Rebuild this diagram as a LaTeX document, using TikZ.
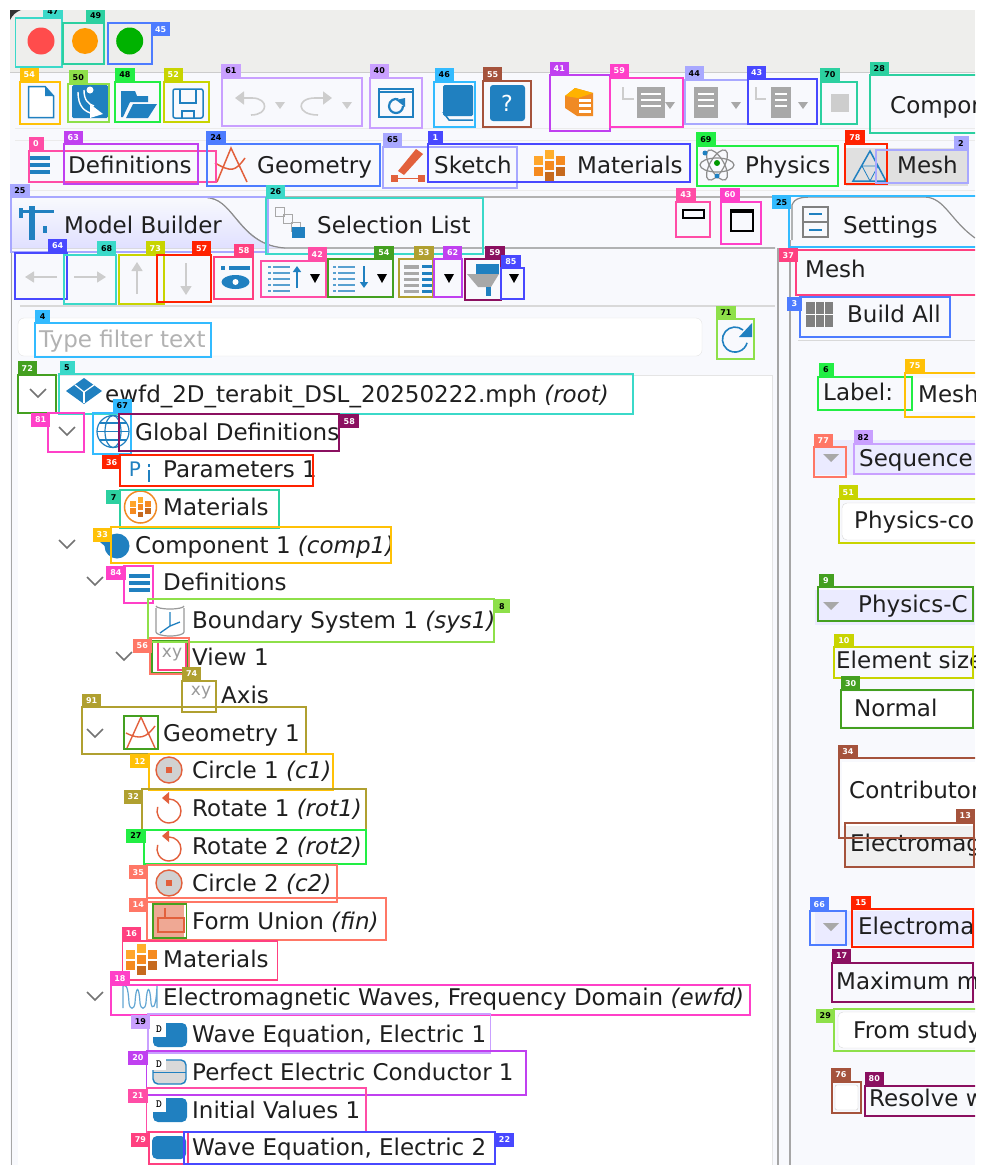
\documentclass[tikz,border=0pt]{standalone}
\usepackage{fontspec}
\setmainfont{DejaVu Sans}
\usetikzlibrary{arrows.meta,shapes.geometric}
\definecolor{markteal}{HTML}{3BD9C9}
\definecolor{markmint}{HTML}{2CD0A0}
\definecolor{markblue}{HTML}{4D7CFF}
\definecolor{markamber}{HTML}{FFC107}
\definecolor{marklime}{HTML}{8EE04A}
\definecolor{markgreen}{HTML}{22EE44}
\definecolor{markyellow}{HTML}{C8D400}
\definecolor{marklilac}{HTML}{C9A0FF}
\definecolor{marksky}{HTML}{33BBFF}
\definecolor{markbrown}{HTML}{A5533C}
\definecolor{markviolet}{HTML}{C040F0}
\definecolor{markfuchsia}{HTML}{FF40C8}
\definecolor{markperi}{HTML}{A8A8FF}
\definecolor{markindigo}{HTML}{4848FF}
\definecolor{markrose}{HTML}{FF4DA6}
\definecolor{markred}{HTML}{FF2200}
\definecolor{markmoss}{HTML}{44A020}
\definecolor{markolive}{HTML}{B0A030}
\definecolor{markplum}{HTML}{8B1060}
\definecolor{markcoral}{HTML}{FF7766}
\definecolor{markpink}{HTML}{FF4080}
\definecolor{panelbg}{HTML}{F8F9FD}
\definecolor{titlegray}{HTML}{EEEEEC}
\definecolor{uiblue}{HTML}{2080C0}
\definecolor{uired}{HTML}{E2603C}
\definecolor{uigray}{HTML}{A8A8A8}
\definecolor{uilight}{HTML}{CDCDCD}
\definecolor{uiorange}{HTML}{F08A24}
\tikzset{
    uitext/.style={anchor=base west,inner sep=0pt,text=black!88,font=\fontsize{23}{23}\selectfont},
    markline/.style={draw=#1,line width=1.8pt},
    marktag/.style={anchor=north west,fill=#1,inner sep=0pt,minimum height=14pt,font=\bfseries\fontsize{8}{8}\selectfont},
    chevron/.style={draw=black!55,line width=1.6pt},
    grayarrow/.style={draw=uilight,line width=1.6pt,-{Triangle[width=11pt,length=9pt]}},
    pics/matgrid/.style={code={
        \foreach \dx/\dy/\tint in {0/-11/FFAE2B,-11/-5/FFA62B,11/-5/F58A1F,0/0/F58A1F,-11/6.5/F58A1F,11/6.5/C66A1E,0/11.5/C66A1E}
        {
            \definecolor{gridtint}{HTML}{\tint}
            \fill[gridtint] (\dx-4.5,\dy-4.5) rectangle (\dx+4.5,\dy+4.5);
        }
    }},
    pics/targeticon/.style={code={
        \fill[black!18] (0,0) circle (13);
        \draw[uired,line width=1.4pt] (0,0) circle (13);
        \fill[uired] (-3,-3) rectangle (3,3);
    }},
    pics/turnicon/.style={code={
        \draw[uired,line width=1.4pt] (0,-12) arc[start angle=270,end angle=560,radius=12];
        \fill[uired] (-7,-13) -- (0,-19) -- (0,-7) -- cycle;
    }},
    pics/domainicon/.style={code={
        \fill[uiblue,rounded corners=5pt] (-17,-12) rectangle (17,12);
        \fill[white] (-18,-13) rectangle (-4,2);
        \node[inner sep=0pt,font=\ttfamily\bfseries\fontsize{11}{11}\selectfont] (dmark) at (-11,-6) {D};
    }},
    pics/xyicon/.style={code={
        \node[inner sep=0pt,text=black!40,font=\fontsize{17}{17}\selectfont] (xymark) at (0,0) {xy};
    }}
}

\begin{document}
\begin{tikzpicture}[x=1pt,y=-1pt,>=Latex]
    \useasboundingbox (0,0) rectangle (984,1175);
    \fill[white] (0,0) rectangle (984,1175);
    \begin{scope}
    \clip (10,10) rectangle (975,1165);
    % window and panels
    \fill[panelbg] (10,10) rectangle (975,1165);
    \fill[titlegray] (10,10) rectangle (975,72);
    \draw[black!20,line width=1.5pt] (10,72.5)--(975,72.5);
    \draw[black!8] (15,128)--(975,128);
    \draw[black!8] (15,140)--(975,140);
    \draw[black!8] (15,190)--(975,190);
    \fill[black!80] (10,10) -- (21,10) to[bend right=20] (10,20) -- cycle;
    \fill[white] (18,375) rectangle (772,1165);
    \draw[black!10] (18,375)--(772,375)--(772,1165);
    \draw[black!35,line width=1.5pt] (11.5,240)--(11.5,1165);
    \draw[black!35,line width=1.5pt] (778,248)--(778,1165);
    \draw[black!35,line width=1.5pt] (790,240)--(790,1165);
    \draw[black!15,line width=1.2pt] (20,306)--(775,306);
    \draw[black!15,line width=1.2pt] (798,340.5)--(975,340.5);

    % traffic lights
    \fill[red!70!white] (41,41) circle (13.5);
    \fill[orange!80!yellow] (85,41) circle (13);
    \fill[green!70!black] (129.7,41) circle (13.5);

    % main toolbar
    \draw[uiblue,fill=white,line width=1.5pt] (28.5,86.5)--(45,86.5)--(53.5,96)--(53.5,117.5)--(28.5,117.5)--cycle;
    \fill[uiblue] (45,86.5)--(45,96)--(53.5,96)--cycle;
    \fill[uiblue,rounded corners=1.5pt] (72,85) rectangle (108,118);
    \draw[white,line width=1.4pt] (78,92) .. controls (78,106) and (84,112) .. (94,114);
    \draw[white,line width=1.4pt] (84,90) .. controls (84,100) and (88,104) .. (94,106);
    \fill[white] (90,90) circle (3.5);
    \fill[white] (90,104)--(103,114)--(90,118)--cycle;
    \fill[uiblue] (121,91)--(135,91)--(137,96)--(148,96)--(148,102)--(130,102)--(123,117)--(121,117)--cycle;
    \fill[uiblue] (133,104)--(157,104)--(148,118)--(126,118)--cycle;
    \draw[uiblue,line width=1.5pt,rounded corners=2pt] (173,89) rectangle (203,118);
    \draw[uiblue,line width=1.5pt] (180,89)--(180,103)--(196,103)--(196,89);
    \draw[uiblue,line width=1.5pt] (182,118)--(182,111)--(194,111)--(194,118);
    \draw[uilight,line width=1.6pt,-{Triangle[width=13pt,length=9pt]}] (251,115) .. controls (269,115) and (269,98) .. (252,98) -- (235,98);
    \fill[uilight] (275,102)--(285,102)--(280,109)--cycle;
    \draw[uilight,line width=1.6pt,-{Triangle[width=13pt,length=9pt]}] (318,115) .. controls (296,115) and (296,98) .. (315,98) -- (332,98);
    \fill[uilight] (342,102)--(352,102)--(347,109)--cycle;
    \draw[uiblue,line width=1.5pt] (379,89) rectangle (413,117);
    \draw[uiblue,line width=2.5pt] (379,92)--(413,92);
    \draw[uiblue,line width=2.2pt] (403,106) arc[start angle=0,end angle=290,radius=7];
    \fill[uiblue] (405,98)--(405,107)--(396,100)--cycle;
    \fill[uiblue,rounded corners=1.5pt] (443,85) rectangle (473,116);
    \draw[uiblue,line width=1.5pt] (443,112)--(449,120)--(473,120);
    \fill[uiblue,rounded corners=3pt] (490,85) rectangle (525,121);
    \node[inner sep=0pt,text=white,font=\fontsize{22}{22}\selectfont] (helpmark) at (507,103) {?};
    \fill[uiorange] (565,96)--(575,88)--(593,93)--(593,116)--(577,116)--(565,108)--cycle;
    \fill[orange!60!yellow] (565,96)--(575,88)--(593,93)--(578,98)--cycle;
    \fill[white] (579,99) rectangle (591,102);
    \fill[white] (579,104) rectangle (591,107);
    \fill[white] (579,110) rectangle (591,113);
    \foreach \xa/\xb in {637/665,694/718,771/791}
    {
        \fill[uigray] (\xa,87) rectangle (\xb,118);
        \foreach \yy in {93,99,105}
        {
            \fill[white] (\xa+4,\yy) rectangle (\xb-4,\yy+1.5);
        }
    }
    \draw[uilight,line width=1.5pt] (623,87)--(623,99)--(634,99);
    \draw[uilight,line width=1.5pt] (756,87)--(756,99)--(766,99);
    \foreach \xx in {670,736,803}
    {
        \fill[uigray] (\xx-5,102)--(\xx+5,102)--(\xx,109)--cycle;
    }
    \fill[uilight] (831,94) rectangle (849,112);
    \node[uitext] (compon) at (890,113) {Compon};

    % ribbon tabs
    \fill[black!12] (846,148) rectangle (968,186);
    \foreach \yy in {156,163,170}
    {
        \fill[uiblue] (30,\yy) rectangle (50,\yy+3.5);
    }
    \node[uitext] (ribdef) at (68,173.5) {Definitions};
    \draw[uired,line width=1.5pt] (217,182)--(231,148)--(247,182);
    \draw[uired,line width=1.5pt] (215,163) .. controls (231,172) and (235,172) .. (245,158);
    \node[uitext] (ribgeom) at (257,173.5) {Geometry};
    \fill[uired] (398,171)--(416,149)--(423,154)--(404,175)--cycle;
    \fill[uired] (391,175) rectangle (398,182);
    \fill[uired] (418,175) rectangle (425,182);
    \draw[uired,line width=1.2pt] (398,178.5)--(418,178.5);
    \node[uitext] (ribsketch) at (434,173.5) {Sketch};
    \pic at (549,165) {matgrid};
    \node[uitext] (ribmat) at (577,173.5) {Materials};
    \foreach \ang in {0,60,120}
    {
        \draw[black!45,line width=1.2pt,rotate around={\ang:(717,165)}] (717,165) ellipse (17 and 7);
    }
    \fill[green!60!black] (717,163) circle (3);
    \fill[uiblue] (705,153) circle (2.5);
    \fill[uiblue] (717,176) circle (2.5);
    \node[uitext] (ribphys) at (745,173.5) {Physics};
    \draw[uiblue,line width=1.5pt] (870,151)--(886,181)--(853,181)--cycle;
    \draw[uiblue,line width=0.8pt] (862,166)--(878,166)--(870,181)--cycle;
    \node[uitext] (ribmesh) at (897,173.5) {Mesh};

    % model builder tabs
    \fill[top color=panelbg,bottom color=blue!12!white] (12,198)--(205,198) .. controls (235,198) and (240,245) .. (285,248)--(12,248)--cycle;
    \draw[black!45,line width=1.2pt] (210,198) .. controls (235,202) and (240,245) .. (285,248)--(775,248);
    \draw[black!30,line width=1.2pt] (12,197)--(775,197);
    \draw[black!45,line width=1.2pt] (483,200) -- (483,240);
    \fill[uiblue] (29,206) rectangle (35,240);
    \fill[uiblue] (19,210) rectangle (54,213);
    \fill[uiblue] (19,208) rectangle (23,218);
    \fill[uiblue] (43,226) rectangle (47,233);
    \node[uitext] (modeltab) at (64,233.5) {Model Builder};
    \foreach \xx/\yy in {280/212,288/219,296/227}
    {
        \draw[uigray,line width=1pt] (\xx-5,\yy-5) rectangle (\xx+4,\yy+4);
    }
    \fill[uiblue] (292,227) rectangle (305,238);
    \node[uitext] (selecttab) at (317,233.5) {Selection List};
    \draw[black,line width=1.5pt] (683,210) rectangle (704,218);
    \draw[black,line width=1.5pt] (731,210) rectangle (753,231);
    \draw[black,line width=2.5pt] (731,212)--(753,212);

    % model builder toolbar
    \draw[grayarrow] (57,277)--(25,277);
    \draw[grayarrow] (74,277)--(106,277);
    \draw[grayarrow] (137,294)--(137,262);
    \draw[grayarrow] (186,263)--(186,295);
    \fill[uiblue] (221,266) rectangle (225,270);
    \fill[uiblue] (229,266) rectangle (250,270);
    \fill[uiblue] (235.5,282) ellipse (14 and 7);
    \fill[white] (235.5,282) circle (3);
    \foreach \xa/\xb/\ya/\yb in {269/290/266/292,334/355/266/292}
    {
        \foreach \yy in {266,272,278,284,290}
        {
            \fill[uiblue!75] (\xa+4,\yy) rectangle (\xb,\yy+2);
            \fill[uiblue!75] (\xa-1,\yy) rectangle (\xa+2,\yy+2);
        }
    }
    \draw[uiblue,line width=1.6pt,-{Triangle[width=8pt,length=6pt]}] (297,288)--(297,266);
    \draw[uiblue,line width=1.6pt,-{Triangle[width=8pt,length=6pt]}] (364,266)--(364,288);
    \fill[uigray] (404,265) rectangle (419,269);
    \fill[uigray] (404,272) rectangle (419,275);
    \fill[uigray] (404,278) rectangle (419,281);
    \fill[uigray] (404,284) rectangle (419,287);
    \fill[uigray] (404,290) rectangle (419,293);
    \foreach \yy in {265,272,278,284,290}
    {
        \fill[uiblue] (422,\yy) rectangle (432,\yy+3);
    }
    \foreach \xx in {315,382,449,514}
    {
        \fill[black] (\xx-5,274)--(\xx+5,274)--(\xx,283)--cycle;
    }
    \fill[uiblue] (476,264) rectangle (499,274);
    \fill[uigray] (467,274)--(499,274)--(491,287)--(478,287)--cycle;
    \fill[uiblue] (486,287) rectangle (491,296);

    % filter field
    \draw[black!10,fill=white,rounded corners=6pt] (18,318) rectangle (702,356);
    \node[uitext,text=black!30] (filtertext) at (39,347) {Type filter text};
    \draw[uiblue,line width=1.6pt] (743,330) arc[start angle=-50,end angle=-345,radius=12.5];
    \fill[uiblue] (752,323)--(752,337)--(739,337)--cycle;

    % model tree
    \foreach \xx/\yy in {38/393,67/431,67/544,95/581,124/656,95/733,95/996}
    {
        \draw[chevron] (\xx-8,\yy-4)--(\xx,\yy+4)--(\xx+8,\yy-4);
    }
    \fill[uiblue] (66,391)--(84,378)--(102,391)--(84,404)--cycle;
    \draw[white,line width=1.2pt] (75,385)--(84,392)--(94,385);
    \draw[white,line width=1.2pt] (84,392)--(84,403);
    \node[uitext] (rootlabel) at (105,402) {ewfd\_2D\_terabit\_DSL\_20250222.mph \textit{(root)}};
    \draw[uiblue,line width=1.2pt] (113,431.5) circle (16);
    \draw[uiblue,line width=1.2pt] (113,431.5) ellipse (8 and 16);
    \draw[uiblue,line width=1.2pt] (97,431.5)--(129,431.5);
    \draw[uiblue,line width=1.2pt] (99,423)--(127,423);
    \draw[uiblue,line width=1.2pt] (99,440)--(127,440);
    \node[uitext] (globaldefs) at (135,440) {Global Definitions};
    \node[inner sep=0pt,text=uiblue,font=\fontsize{20}{20}\selectfont] (pmark) at (135,469) {P};
    \fill[uiblue] (148,470) rectangle (150,482);
    \fill[uiblue] (148,464) rectangle (150,467);
    \node[uitext] (paramlabel) at (163,477) {Parameters 1};
    \draw[uiorange,line width=1.5pt] (140.5,507) circle (16);
    \pic[scale=0.65] at (140.5,507) {matgrid};
    \node[uitext] (globalmat) at (163,515) {Materials};
    \fill[uiblue] (117,546) circle (12.5);
    \fill[uiblue] (100,542)--(112,542)--(112,552)--cycle;
    \node[uitext] (complabel) at (135,553) {Component 1 \textit{(comp1)}};
    \foreach \yy in {574,581,588}
    {
        \fill[uiblue] (129,\yy) rectangle (150,\yy+4);
    }
    \node[uitext] (deflabel) at (163,590) {Definitions};
    \draw[black!40,line width=1.2pt] (156,608)--(156,632) arc[start angle=180,end angle=0,x radius=14,y radius=4]--(184,608);
    \draw[black!40,line width=1.2pt] (156,606) arc[start angle=180,end angle=0,x radius=14,y radius=3];
    \draw[uiblue,line width=1.3pt] (170,612)--(170,626)--(180,622);
    \draw[uiblue,line width=1.3pt] (170,626)--(160,633);
    \node[uitext] (boundlabel) at (192,628) {Boundary System 1 \textit{(sys1)}};
    \pic at (172,655) {xyicon};
    \node[uitext] (viewlabel) at (192,665) {View 1};
    \pic at (201,693) {xyicon};
    \node[uitext] (axislabel) at (221,703) {Axis};
    \draw[uired,line width=1.4pt] (127,748)--(141,717)--(155,748);
    \draw[uired,line width=1.4pt] (126,733) .. controls (140,740) and (146,738) .. (155,726);
    \node[uitext] (geomlabel) at (163,741) {Geometry 1};
    \pic at (169,770) {targeticon};
    \node[uitext] (circleone) at (192,778.5) {Circle 1 \textit{(c1)}};
    \pic at (169,811) {turnicon};
    \node[uitext] (rotateone) at (192,816) {Rotate 1 \textit{(rot1)}};
    \pic at (169,849) {turnicon};
    \node[uitext] (rotatetwo) at (192,854) {Rotate 2 \textit{(rot2)}};
    \pic at (169,883) {targeticon};
    \node[uitext] (circletwo) at (192,891.5) {Circle 2 \textit{(c2)}};
    \fill[uired!55] (154,905) rectangle (184,938);
    \draw[uired,line width=1.2pt] (158,918) rectangle (184,932);
    \draw[uired,line width=1.2pt] (165,908)--(165,918);
    \node[uitext] (unionlabel) at (192,929) {Form Union \textit{(fin)}};
    \pic at (141,959) {matgrid};
    \node[uitext] (materials) at (163,967) {Materials};
    \draw[uiblue!70,line width=1.2pt] (123,1008)--(123,986) .. controls (126,984) and (128,986) .. (129,1003) .. controls (130,1010) and (134,1010) .. (135,1003) .. controls (136,985) and (139,985) .. (140,1003) .. controls (141,1010) and (145,1010) .. (146,1003) .. controls (147,985) and (150,985) .. (151,1003) .. controls (152,1010) and (156,1010) .. (157,986)--(157,1008);
    \node[uitext] (ewfdlabel) at (163,1005) {Electromagnetic Waves, Frequency Domain \textit{(ewfd)}};
    \pic at (170,1035) {domainicon};
    \node[uitext] (waveone) at (192,1042) {Wave Equation, Electric 1};
    \draw[uiblue,line width=1.4pt,fill=black!15,rounded corners=5pt] (153,1060) rectangle (186,1084);
    \draw[uiblue,line width=1.4pt] (153,1072.5)--(186,1072.5);
    \fill[white] (152,1059) rectangle (166,1070);
    \node[inner sep=0pt,font=\ttfamily\bfseries\fontsize{11}{11}\selectfont] (pecmark) at (159,1064) {D};
    \node[uitext] (peclabel) at (192,1080) {Perfect Electric Conductor 1};
    \pic at (170,1110) {domainicon};
    \node[uitext] (initlabel) at (192,1118) {Initial Values 1};
    \fill[uiblue,rounded corners=5pt] (152,1136) rectangle (186,1159);
    \node[uitext] (wavetwo) at (192,1155) {Wave Equation, Electric 2};

    % settings panel
    \draw[black!45,line width=1.2pt] (792,240)--(792,205) .. controls (795,198) and (800,197) .. (815,197)--(925,197) .. controls (945,198) and (950,220) .. (975,238);
    \draw[black!50,line width=1.2pt,fill=panelbg] (803,207) rectangle (828,222);
    \draw[black!50,line width=1.2pt,fill=panelbg] (803,222) rectangle (828,237);
    \draw[uiblue,line width=1.2pt] (809,214)--(822,214);
    \draw[uiblue,line width=1.2pt] (809,230)--(822,230);
    \node[uitext] (settingstab) at (843,233.5) {Settings};
    \node[uitext] (settingsmesh) at (805,277.5) {Mesh};
    \fill[black!50] (806,302) rectangle (833,327);
    \draw[white,line width=1pt] (815,302)--(815,327);
    \draw[white,line width=1pt] (824,302)--(824,327);
    \draw[white,line width=1pt] (806,314)--(833,314);
    \node[uitext] (buildall) at (847,322.5) {Build All};
    \node[uitext] (labelkey) at (823,400) {Label:};
    \fill[white] (911,378) rectangle (975,412);
    \node[uitext] (labelval) at (918,402.5) {Mesh};
    \foreach \ya/\yb in {440/475,590/625,911/945}
    {
        \fill[blue!8!white] (815,\ya) rectangle (975,\yb);
    }
    \foreach \yy in {458,606,927}
    {
        \fill[uigray] (823,\yy-4)--(839,\yy-4)--(831,\yy+4)--cycle;
    }
    \node[uitext] (sequencehead) at (859,466) {Sequence};
    \draw[black!15,fill=white,rounded corners=5pt] (842,503) rectangle (985,540);
    \node[uitext] (seqfield) at (854,528) {Physics-co};
    \node[uitext] (physhead) at (858,612) {Physics-C};
    \node[uitext] (elemsize) at (836,668) {Element size};
    \fill[white] (842,692) rectangle (975,726);
    \node[uitext] (normalfield) at (854,716) {Normal};
    \fill[white] (842,762) rectangle (975,826);
    \node[uitext] (contribfield) at (849,798) {Contributor};
    \fill[black!6] (845,826) rectangle (975,866);
    \node[uitext] (contribval) at (850,851) {Electromag};
    \node[uitext] (electrohead) at (858,934) {Electroma};
    \node[uitext] (maxlabel) at (836,989) {Maximum m};
    \draw[black!15,fill=white,rounded corners=5pt] (838,1012) rectangle (985,1048);
    \node[uitext] (studyfield) at (853,1038) {From study};
    \draw[black!20,fill=white,rounded corners=2pt] (835,1085) rectangle (858,1110);
    \node[uitext] (resolvelabel) at (869,1106) {Resolve w};

    % marks without a number
    \draw[markline=markmoss] (152.3,640.7) rectangle (188.3,672.7);
    \draw[markline=markpink] (158,642) rectangle (186,670);
    \draw[markline=markmoss] (124,715.7) rectangle (157.7,749.3);
    \draw[markline=markmoss] (152.9,904) rectangle (186.4,938.3);

    % numbered marks
    \foreach \col/\txt/\xa/\ya/\xb/\yb/\tx/\ty/\num [count=\i] in {
        markteal/black/15.5/18/62.3/66.7/43/4/47,
        markmint/black/63.3/22.7/104.3/64/85.7/8.7/49,
        markblue/white/108/22.7/151.7/64.3/150.7/22/45,
        markamber/white/20/81.7/60/124.3/19.3/67.7/54,
        marklime/black/68.3/84/109.3/122.3/68.3/70/50,
        markgreen/black/115/81.7/160/122.3/115/67.7/48,
        markyellow/white/164/81.7/208.7/122.3/163.3/67.7/52,
        marklilac/black/221.7/77.7/362/126/221/63.7/61,
        marklilac/black/370/77.7/421.7/128.3/369.3/63.7/40,
        marksky/black/434.3/81.7/475/126.7/434.3/67.7/46,
        markbrown/white/483.3/81/530.7/127.3/482.7/67/55,
        markviolet/white/550/75.3/610/131/549.3/61.3/41,
        markfuchsia/white/610/77.7/683.3/126.7/609.3/63.7/59,
        markperi/black/685/80/748.3/124.3/684.3/66/44,
        markindigo/white/748.3/79.3/816.7/124.3/746.7/65.3/43,
        markmint/black/820.7/81.7/856.7/124.3/820/67.7/70,
        markmint/black/870/75.3/985/132.7/869.3/61.3/28,
        markrose/white/29/150.7/215.7/181.7/28.3/136.7/0,
        markviolet/white/64/144.3/197.7/184/63.3/130.3/63,
        markblue/black/206.7/144.3/380/186/206/130.3/24,
        markperi/black/383.3/146.7/516.7/188.3/382.7/132.7/65,
        markindigo/white/428.3/144.3/690/181.7/427.7/130.3/1,
        markgreen/black/696.7/146/838.3/186/696/132/69,
        markred/white/845/144/887.3/184/845/130/78,
        markperi/black/876/150/967.7/183.3/953.3/136/2,
        markrose/white/676/201.7/710/237.3/676/187.7/43,
        markfuchsia/white/720.7/201.7/761/244/720/187.7/60,
        markperi/black/11/197.3/268/252.3/10/183.3/25,
        markteal/black/266/198.3/483.3/254/265.7/184.3/26,
        marksky/black/789.3/195.7/985/247.3/771.7/195/25,
        markpink/white/796/250/985/295/778.3/248/37,
        markblue/white/800/296.7/950/336.7/786.7/296.7/3,
        markindigo/white/15/252.7/66.7/299.3/47.7/238.7/64,
        markteal/black/64/255/115.7/304/96.7/241/68,
        markyellow/white/119.3/255/164.3/304/145.3/241/73,
        markred/white/157.3/255/211/301.7/191.7/241/57,
        markpink/white/214.3/257.3/253.3/299.3/234/243.3/58,
        markrose/white/261/261/326/297.3/307.3/247/42,
        markmoss/white/328.3/259.3/393.3/297.3/374/245.3/54,
        markolive/white/399/259.3/433.3/297.3/414/245.3/53,
        markviolet/white/434.3/259.3/461.7/297.3/442.7/245.3/62,
        markplum/white/465/259.3/501/300/485/245.3/59,
        markindigo/white/501/268.3/524/299.3/501/254.3/85,
        marksky/black/35/323.3/211/356.7/35/309.3/4,
        marklime/black/716.7/319.3/754.3/359.3/716/305.3/71,
        markmoss/white/17.7/375/55.7/412.7/17.3/361/72,
        markteal/black/59.3/374.3/632.7/414/59.3/360.3/5,
        markfuchsia/white/48.3/412.7/84.3/452.3/30.7/412.7/81,
        marksky/black/92.7/412.7/131/454.3/112.3/398.7/67,
        markplum/white/119.3/414/339.3/450.7/339.3/414/58,
        markred/white/120/455/313.3/486/101.7/455/36,
        markmint/black/120/490/279.3/528.3/106/490/7,
        markamber/white/110.7/527.3/390.7/563.3/92.3/527.3/33,
        markfuchsia/white/124.3/565.7/153.3/603.3/106/565.7/84,
        marklime/black/148.3/599/494.3/642.3/494.3/599/8,
        markcoral/white/150/638.3/189/674/132.3/638.3/56,
        markolive/white/181.7/680.7/215.7/711.7/181.7/666.7/74,
        markolive/white/82/707.3/306/754/81.7/693.3/91,
        markamber/white/149/754/332.7/790/130/754/12,
        markolive/white/142.3/789.3/366/830/123.3/789.3/32,
        markgreen/black/144/830/366/864.3/126/828.3/27,
        markcoral/white/146.7/865/337.3/901.7/128.3/865/35,
        markcoral/white/146.7/897.7/386/940/128.3/897.7/14,
        markpink/white/122.5/940.7/277.5/980/121.4/926.7/16,
        markfuchsia/white/110.7/985/750/1015/110/971/18,
        marklilac/black/148.2/1014.3/490.4/1052.7/130.4/1014.3/19,
        markviolet/white/146.4/1050.7/526/1095/127.9/1050.7/20,
        markrose/white/146.4/1088.3/366/1131.7/127.9/1088.3/21,
        markpink/white/149/1132.3/188.2/1164/130.4/1132.3/79,
        markindigo/white/184/1132.3/494.6/1164/494.6/1132.3/22,
        markgreen/black/818.3/376.7/912.3/410/818.3/362.7/6,
        markamber/white/905/372.7/985/416.7/905/358.7/75,
        markcoral/white/814/447.3/846/476.7/813.3/433.3/77,
        marklilac/black/854/444/985/474.3/853.3/430/82,
        markyellow/white/838.7/499/985/543.3/838.3/485/51,
        markmoss/white/818.3/587.3/973.3/620.7/818.3/573.3/9,
        markyellow/white/834/647.3/973.3/678.3/834/633.3/10,
        markmoss/white/840.7/690/973.3/727.7/840.7/676/30,
        markbrown/white/838.7/758.3/985/837.7/838/744.3/34,
        markbrown/white/845/822.7/974/866.7/955.3/808.7/13,
        markred/white/851.7/909.3/973.3/946.7/851/895.3/15,
        markblue/white/810/911/845.7/945/809.3/897/66,
        markplum/white/831.7/962.7/973.3/1001.7/831.7/948.7/17,
        marklime/black/834/1009.3/985/1050.7/815.3/1008.3/29,
        markbrown/white/831.7/1081.7/861/1113.3/831/1067.7/76,
        markplum/white/865/1085.7/985/1115.7/864.3/1071.7/80}
    {
        \ifnum\num<10 \def\tagw{15}\else \def\tagw{19.5}\fi
        \draw[markline=\col] (\xa,\ya) rectangle (\xb,\yb);
        \node[marktag=\col,text=\txt,minimum width=\tagw pt] (tag\i) at (\tx,\ty) {\num};
    }
    \end{scope}
\end{tikzpicture}
\end{document}
